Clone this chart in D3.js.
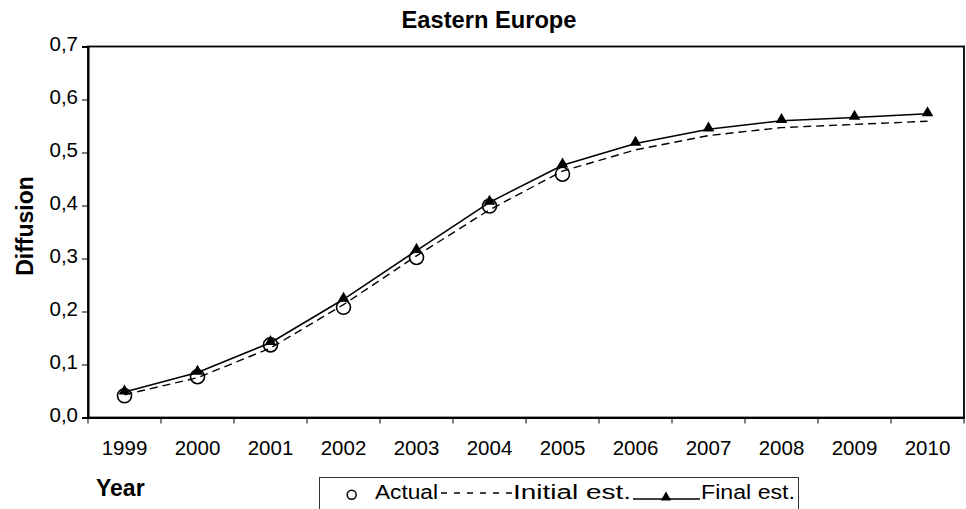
<!DOCTYPE html>
<html>
<head>
<meta charset="utf-8">
<script src="https://cdn.jsdelivr.net/npm/d3@7"></script>
<style>
  body { margin: 0; background: #fff; }
  svg { display: block; font-family: "Liberation Sans", Arial, sans-serif; }
  .axis text { font-size: 20.5px; fill: #000; font-family: "Liberation Sans", Arial, sans-serif; }
  .axis path, .axis line { stroke: #000; }
</style>
</head>
<body>
<div class="chart"></div>
<script>
const years = ['1999','2000','2001','2002','2003','2004','2005','2006','2007','2008','2009','2010']
const actual = [0.041, 0.077, 0.137, 0.208, 0.302, 0.399, 0.459]
const initialEst = [0.043, 0.075, 0.131, 0.213, 0.305, 0.392, 0.465, 0.505, 0.532, 0.547, 0.553, 0.559]
const finalEst = [0.048, 0.085, 0.141, 0.223, 0.315, 0.406, 0.476, 0.517, 0.544, 0.560, 0.566, 0.573]
const yTicks = [0, 0.1, 0.2, 0.3, 0.4, 0.5, 0.6, 0.7]

const width = 966
const height = 509
const margin = {top: 46.5, right: 2, bottom: 91.5, left: 88}

const svg = d3.select('.chart').append('svg')
  .attr('width', width)
  .attr('height', height)

const xScale = d3.scaleBand().domain(years).range([margin.left, width - margin.right]).padding(0)
const yScale = d3.scaleLinear().domain([0, 0.7]).range([height - margin.bottom, margin.top])
const xc = d => xScale(d) + xScale.bandwidth() / 2
const fmt = d => d3.format('.1f')(d).replace('.', ',')

// frame
svg.append('rect')
  .attr('x', margin.left)
  .attr('y', margin.top)
  .attr('width', width - margin.right - margin.left)
  .attr('height', height - margin.bottom - margin.top)
  .attr('fill', 'none')
  .attr('stroke', '#000')
  .attr('stroke-width', 1.8)

// y axis
svg.append('g')
  .attr('class', 'y axis')
  .attr('transform', `translate(${margin.left},0)`)
  .call(d3.axisLeft(yScale).tickValues(yTicks).tickFormat(fmt).tickSize(6).tickPadding(4))
  .call(g => g.select('.domain').attr('stroke-width', 2))
  .selectAll('text').attr('dy', '0.2em')

// x axis labels
const xAxis = svg.append('g')
  .attr('class', 'x axis')
  .attr('transform', `translate(0,${height - margin.bottom})`)
  .call(d3.axisBottom(xScale).tickSize(0).tickPadding(23))
xAxis.select('.domain').attr('stroke-width', 2)

// x ticks on band edges
xAxis.selectAll('.edge')
  .data(years.map(d => xScale(d)).concat([xScale.range()[1]]))
  .join('line')
  .attr('class', 'edge')
  .attr('x1', d => d).attr('x2', d => d)
  .attr('y1', 0).attr('y2', 6)
  .attr('stroke', '#000')

// lines
const line = d3.line()
  .x((d, i) => xc(years[i]))
  .y(d => yScale(d))

svg.append('path')
  .datum(initialEst)
  .attr('d', line)
  .attr('fill', 'none')
  .attr('stroke', '#000')
  .attr('stroke-width', 1.4)
  .attr('stroke-dasharray', '8,5')

svg.append('path')
  .datum(finalEst)
  .attr('d', line)
  .attr('fill', 'none')
  .attr('stroke', '#000')
  .attr('stroke-width', 1.6)

// markers
svg.selectAll('.actual')
  .data(actual)
  .join('circle')
  .attr('class', 'actual')
  .attr('cx', (d, i) => xc(years[i]))
  .attr('cy', d => yScale(d))
  .attr('r', 7)
  .attr('fill', 'none')
  .attr('stroke', '#000')
  .attr('stroke-width', 1.6)

svg.selectAll('.final')
  .data(finalEst)
  .join('path')
  .attr('class', 'final')
  .attr('d', d3.symbol(d3.symbolTriangle, 58))
  .attr('transform', (d, i) => `translate(${xc(years[i])},${yScale(d) - 1})`)
  .attr('fill', '#000')

// titles
svg.append('text')
  .attr('x', 489)
  .attr('y', 28)
  .attr('text-anchor', 'middle')
  .attr('font-size', 23)
  .attr('font-weight', 'bold')
  .attr('textLength', 175)
  .attr('lengthAdjust', 'spacingAndGlyphs')
  .text('Eastern Europe')

svg.append('text')
  .attr('transform', 'translate(33,226) rotate(-90)')
  .attr('text-anchor', 'middle')
  .attr('font-size', 23)
  .attr('font-weight', 'bold')
  .text('Diffusion')

svg.append('text')
  .attr('x', 96)
  .attr('y', 496)
  .attr('font-size', 23)
  .attr('font-weight', 'bold')
  .text('Year')

// legend
const legend = svg.append('g').attr('class', 'legend')
legend.append('rect')
  .attr('x', 319.5).attr('y', 477.5)
  .attr('width', 479).attr('height', 40)
  .attr('fill', 'none')
  .attr('stroke', '#333')
  .attr('stroke-width', 1)

legend.append('circle')
  .attr('cx', 351.7).attr('cy', 494.7).attr('r', 4.5)
  .attr('fill', 'none').attr('stroke', '#000').attr('stroke-width', 1.5)

legend.append('line')
  .attr('x1', 441).attr('x2', 512).attr('y1', 493).attr('y2', 493)
  .attr('stroke', '#000').attr('stroke-width', 1.4).attr('stroke-dasharray', '6,7')

legend.append('line')
  .attr('x1', 633).attr('x2', 700).attr('y1', 499).attr('y2', 499)
  .attr('stroke', '#000').attr('stroke-width', 1.5)

legend.append('path')
  .attr('d', d3.symbol(d3.symbolTriangle, 45))
  .attr('transform', 'translate(666,497.5)')
  .attr('fill', '#000')

const legendItems = [
  {label: 'Actual', x: 375, w: 63},
  {label: 'Initial est.', x: 513, w: 118},
  {label: 'Final est.', x: 701, w: 94}
]
legend.selectAll('.lbl')
  .data(legendItems)
  .join('text')
  .attr('class', 'lbl')
  .attr('x', d => d.x)
  .attr('y', 498.5)
  .attr('font-size', 20)
  .attr('textLength', d => d.w)
  .attr('lengthAdjust', 'spacingAndGlyphs')
  .text(d => d.label)
</script>
</body>
</html>
